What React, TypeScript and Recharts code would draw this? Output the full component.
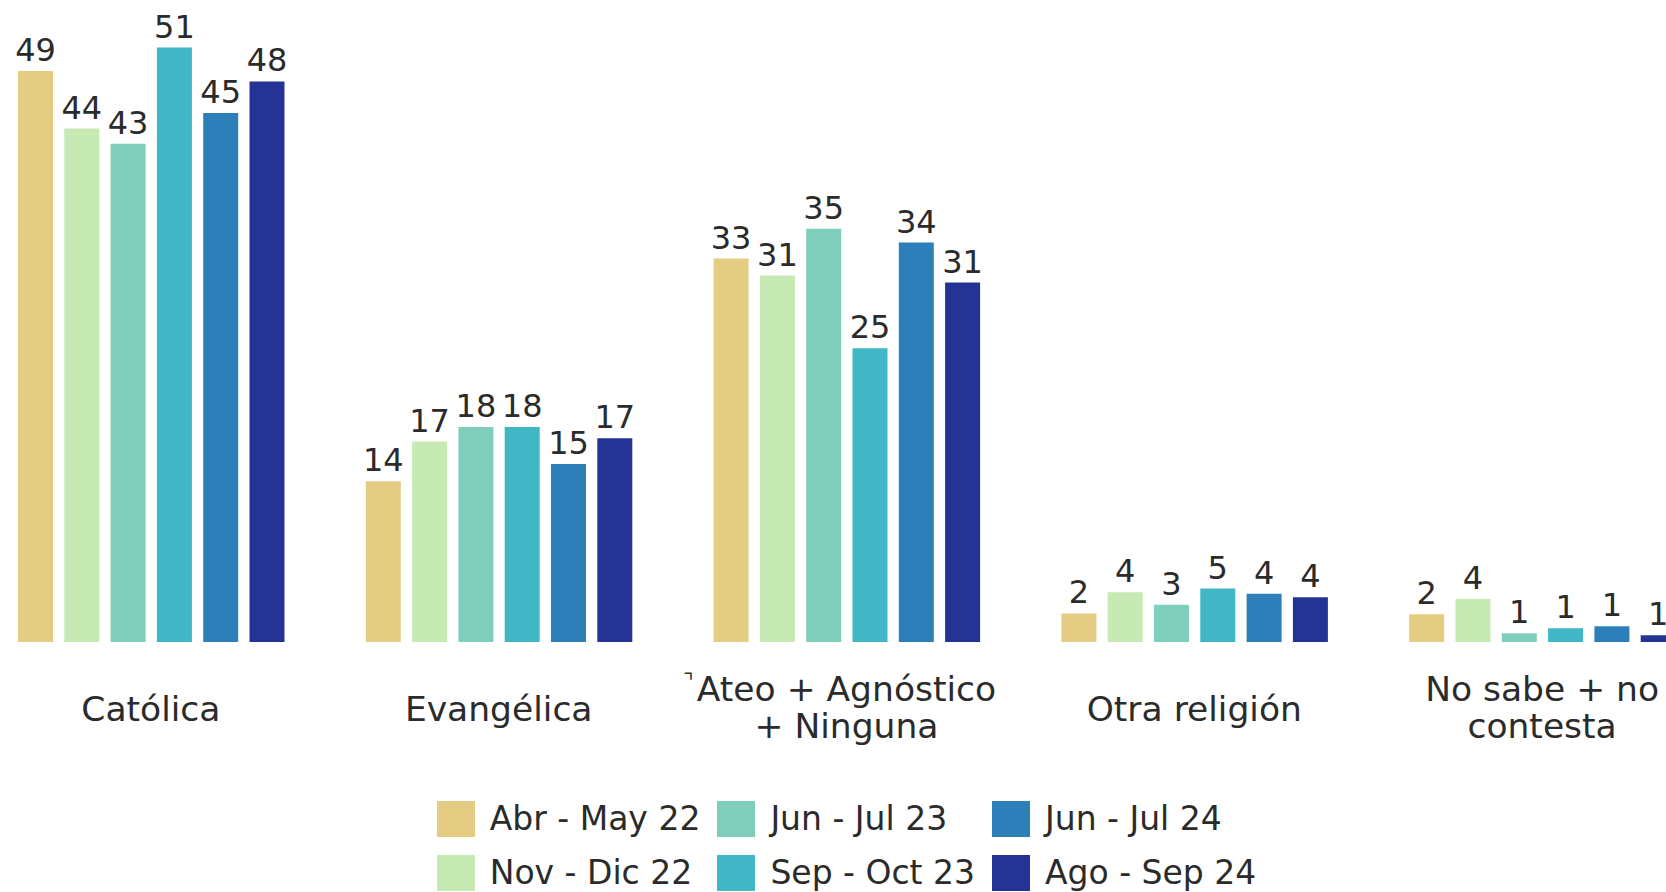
import React from 'react';
import { BarChart, Bar, XAxis, YAxis, Legend, LabelList } from 'recharts';

const FONT = '"DejaVu Sans", sans-serif';

const categories = ['Católica', 'Evangélica', 'Ateo + Agnóstico + Ninguna', 'Otra religión', 'No sabe + no contesta'];
const categoryLines = [['Católica'], ['Evangélica'], ['Ateo + Agnóstico', '+ Ninguna'], ['Otra religión'], ['No sabe + no', 'contesta']];

const seriesNames = ['Abr - May 22', 'Nov - Dic 22', 'Jun - Jul 23', 'Sep - Oct 23', 'Jun - Jul 24', 'Ago - Sep 24'];
const seriesKeys = ['abrMay22', 'novDic22', 'junJul23', 'sepOct23', 'junJul24', 'agoSep24'];
const colors = ['#E4CC83', '#C7E9B4', '#7FCDBB', '#41B6C4', '#2C7FB8', '#253494'];

const abrMay22 = [49.0, 13.8, 32.9, 2.45, 2.38];
const novDic22 = [44.06, 17.2, 31.44, 4.27, 3.69];
const junJul23 = [42.75, 18.45, 35.45, 3.2, 0.75];
const sepOct23 = [51.0, 18.45, 25.2, 4.58, 1.17];
const junJul24 = [45.4, 15.28, 34.27, 4.15, 1.35];
const agoSep24 = [48.1, 17.48, 30.84, 3.83, 0.57];

const seriesValues = [abrMay22, novDic22, junJul23, sepOct23, junJul24, agoSep24];

const data = categories.map((name, i) => {
  const row: any = { name };
  seriesKeys.forEach((k, s) => { row[k] = seriesValues[s][i]; });
  return row;
});

const CategoryTick = (props: any) => {
  const { x, y, payload } = props;
  const idx = categories.indexOf(payload.value);
  const lines = categoryLines[idx] || [payload.value];
  const baselines = lines.length === 1 ? [79] : [59, 96];
  return (
    <g>
      {idx === 2 && (
        <text x={x - 158} y={y + 47} textAnchor="middle" fontSize={22} fill="#333" fontFamily={FONT}>⌝</text>
      )}
      {lines.map((line: string, i: number) => (
        <text key={i} x={x} y={y + baselines[i]} textAnchor="middle" fontSize={34.5} fill="#2b2b2b" fontFamily={FONT}>
          {line}
        </text>
      ))}
    </g>
  );
};

const LegendContent = () => (
  <div style={{ display: 'flex', justifyContent: 'center', gap: 17, height: 90, fontFamily: FONT, fontSize: 33, color: '#2b2b2b' }}>
    {[0, 1, 2].map((col) => (
      <div key={col} style={{ display: 'flex', flexDirection: 'column', gap: 18 }}>
        {[0, 1].map((row) => {
          const i = col * 2 + row;
          return (
            <div key={i} style={{ display: 'flex', alignItems: 'center', height: 36 }}>
              <div style={{ width: 38, height: 36, background: colors[i], marginRight: 15, flex: 'none' }} />
              <span style={{ whiteSpace: 'nowrap', lineHeight: '36px' }}>{seriesNames[i]}</span>
            </div>
          );
        })}
      </div>
    ))}
  </div>
);

export default function App() {
  return (
    <div style={{ position: 'fixed', left: 0, top: 0, width: 1666, height: 892, overflow: 'hidden', background: '#fff' }}>
      <div style={{ position: 'absolute', left: -23, top: 0 }}>
        <BarChart
          width={1739}
          height={892}
          data={data}
          margin={{ top: 1, right: 0, bottom: 1, left: 0 }}
          barSize={35}
          barGap={11.3}
        >
          <XAxis
            dataKey="name"
            axisLine={false}
            tickLine={false}
            tickSize={0}
            tickMargin={0}
            height={159}
            interval={0}
            tick={<CategoryTick />}
          />
          <YAxis hide domain={[0, 55]} />
          <Legend verticalAlign="bottom" content={<LegendContent />} />
          {seriesKeys.map((k, s) => (
            <Bar key={k} dataKey={k} name={seriesNames[s]} fill={colors[s]} isAnimationActive={false}>
              <LabelList
                dataKey={k}
                position="top"
                offset={10}
                formatter={(v: any) => Math.round(Number(v))}
                style={{ fontSize: 32, fill: '#2b2b2b', fontFamily: FONT }}
              />
            </Bar>
          ))}
        </BarChart>
      </div>
    </div>
  );
}
